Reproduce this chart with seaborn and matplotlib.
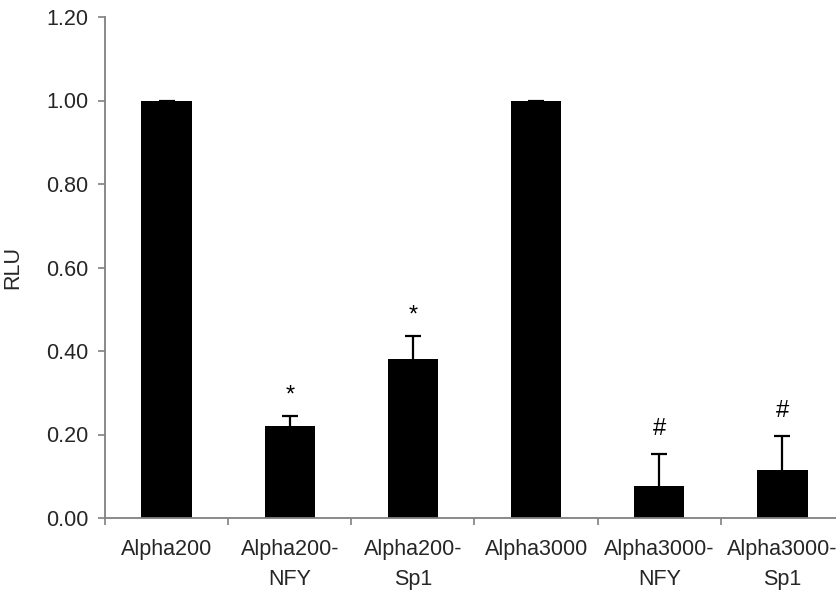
import numpy as np
import pandas as pd
import matplotlib
matplotlib.use("Agg")
import matplotlib.pyplot as plt
from matplotlib.ticker import FixedLocator, FormatStrFormatter
import seaborn as sns

# Relative luciferase units per construct
categories = ["Alpha200", "Alpha200-\nNFY", "Alpha200-\nSp1",
              "Alpha3000", "Alpha3000-\nNFY", "Alpha3000-\nSp1"]
rlu = [1.00, 0.22, 0.38, 1.00, 0.076, 0.114]
sem = [0.0, 0.025, 0.057, 0.0, 0.077, 0.082]
marks = ["", "*", "*", "", "#", "#"]
y_ticks = [0.0, 0.2, 0.4, 0.6, 0.8, 1.0, 1.2]

sns.set_style("white")
plt.rcParams["font.family"] = ["Liberation Sans", "DejaVu Sans"]

fig = plt.figure(figsize=(8.36, 5.90), dpi=100)
W, H = 836, 590
ax = fig.add_axes([105 / W, 72 / H, (844 - 105) / W, (518 - 17) / H])

df = pd.DataFrame({"construct": categories, "rlu": rlu})
sns.barplot(data=df, x="construct", y="rlu", color="black", saturation=1,
            width=0.41, errorbar=None, linewidth=0, ax=ax, zorder=2)

# upward-only error bars: stem from bar top, cap at bar top + sem
centers = np.array([p.get_x() + p.get_width() / 2 for p in ax.patches])
heights = np.array([p.get_height() for p in ax.patches])
tops = heights + np.array(sem)
ax.vlines(centers, heights, tops, colors="black", linewidth=1.6, zorder=3)
ax.plot(centers, tops, ls="none", marker="_", markersize=11.5,
        markeredgewidth=1.6, color="black", zorder=3)

# significance markers above the error bars
for x, t, m in zip(centers, tops, marks):
    if m:
        off = 14.5 if m == "*" else 18
        ax.annotate(m, xy=(x, t), xytext=(0, off), textcoords="offset points",
                    ha="center", va="center", fontsize=17 if m == "*" else 17,
                    color="black")

ax.set_xlim(-0.5, len(categories) - 0.5)
ax.set_ylim(0, 1.2)
ax.yaxis.set_major_locator(FixedLocator(y_ticks))
ax.yaxis.set_major_formatter(FormatStrFormatter("%.2f"))

# category labels centred, tick marks between categories
ax.set_xticks(range(len(categories)))
ax.set_xticklabels(categories, linespacing=1.55)
ax.set_xticks(np.arange(-0.5, len(categories), 1.0), minor=True)
ax.tick_params(axis="x", which="major", length=0, pad=15, labelsize=15.5)
ax.tick_params(axis="x", which="minor", length=5, width=1.2, color="#808080",
               direction="out", bottom=True)
ax.tick_params(axis="y", which="major", length=5, width=1.2, color="#808080",
               direction="out", left=True, pad=7, labelsize=15.5)

ax.set_xlabel("")
ax.set_ylabel("RLU", fontsize=15.5, labelpad=16)

for side in ("top", "right"):
    ax.spines[side].set_visible(False)
for side in ("left", "bottom"):
    ax.spines[side].set_color("#808080")
    ax.spines[side].set_linewidth(1.3)

fig.savefig("out.png", dpi=100)
